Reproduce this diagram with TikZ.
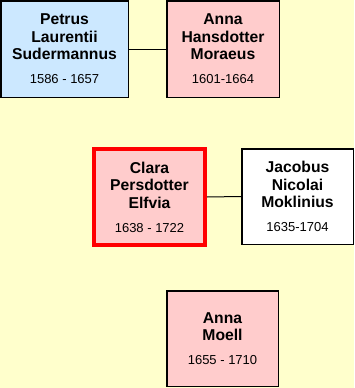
\documentclass[tikz,border=0pt]{standalone}
\usepackage{fontspec}
\setmainfont{Liberation Sans}

\definecolor{bgyellow}{RGB}{255,255,204}
\definecolor{manblue}{RGB}{204,232,255}
\definecolor{womanpink}{RGB}{255,204,204}

\tikzset{
    person/.style={draw=black, line width=1.5pt, inner sep=0pt, align=center,
        font=\fontsize{15.7}{17.5}\selectfont\bfseries},
    focus/.style={person, draw=red, line width=4pt},
    link/.style={draw=black, line width=1pt}
}
\newcommand{\lifespan}[1]{\\[6.5pt]{\mdseries\fontsize{13}{15}\selectfont #1}}

\begin{document}
\begin{tikzpicture}[x=1pt, y=-1pt]
    % Background
    \fill[bgyellow] (0,0) rectangle (354,388);

    % Parents
    \node[person, fill=manblue, minimum width=127.5pt, minimum height=96.5pt] (petrus) at (64.5,49)
        {Petrus\\Laurentii\\Sudermannus\lifespan{1586 - 1657}};
    \node[person, fill=womanpink, minimum width=112.5pt, minimum height=96.5pt] (annaH) at (223,49)
        {Anna\\Hansdotter\\Moraeus\lifespan{1601-1664}};

    % Clara and spouse
    \node[focus, fill=womanpink, minimum width=111pt, minimum height=96pt] (clara) at (149.5,197)
        {Clara\\Persdotter\\Elfvia\lifespan{1638 - 1722}};
    \node[person, fill=white, minimum width=111.5pt, minimum height=95.5pt] (jacobus) at (297.5,196.5)
        {Jacobus\\Nicolai\\Moklinius\lifespan{1635-1704}};

    % Child
    \node[person, fill=womanpink, minimum width=111.5pt, minimum height=95.5pt] (annaM) at (222.5,338.5)
        {Anna\\Moell\lifespan{1655 - 1710}};

    % Marriages
    \draw[link] (petrus.east) -- (annaH.west);
    \draw[link] (clara.east) -- (jacobus.west);
\end{tikzpicture}
\end{document}
